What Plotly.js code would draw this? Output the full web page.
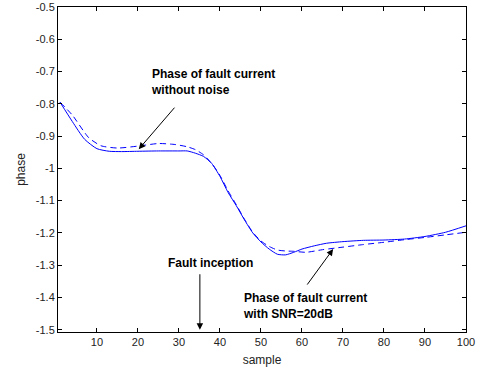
<!DOCTYPE html>
<html>
<head>
<meta charset="utf-8">
<script src="https://cdn.plot.ly/plotly-3.0.1.min.js"></script>
<style>html,body{margin:0;padding:0;background:#fff;}#chart{width:481px;height:368px;}</style>
</head>
<body>
<div id="chart"></div>
<script>
// Phase of fault current without noise (solid)
const cleanX = [1,4,7,10,13,16,20,25,30,32,34,36,38,40,42,44,46,48,50,52,54,56,58,60,63,66,70,75,80,85,90,95,100];
const cleanY = [-0.795,-0.855,-0.91,-0.939,-0.947,-0.948,-0.947,-0.946,-0.946,-0.946,-0.953,-0.963,-0.985,-1.025,-1.075,-1.116,-1.16,-1.2,-1.228,-1.25,-1.266,-1.268,-1.26,-1.25,-1.24,-1.232,-1.227,-1.223,-1.222,-1.219,-1.211,-1.198,-1.178];
// Phase of fault current with SNR=20dB (dashed)
const noisyX = [1,4,8,11,15,20,25,29,32,34,36,38,40,42,44,46,48,50,52,54,56,58,61,65,70,75,80,85,90,95,100];
const noisyY = [-0.795,-0.835,-0.905,-0.93,-0.937,-0.931,-0.923,-0.926,-0.933,-0.942,-0.958,-0.985,-1.022,-1.07,-1.113,-1.158,-1.198,-1.225,-1.242,-1.253,-1.256,-1.257,-1.26,-1.252,-1.244,-1.236,-1.229,-1.221,-1.214,-1.206,-1.198];
const xTicks = [10,20,30,40,50,60,70,80,90,100];
const yTicks = [-1.5,-1.4,-1.3,-1.2,-1.1,-1,-0.9,-0.8,-0.7,-0.6,-0.5];
const yTickText = ['-1.5','-1.4','-1.3','-1.2','-1.1','-1','-0.9','-0.8','-0.7','-0.6','-0.5'];

const font = 'Liberation Sans, Arial, Helvetica, sans-serif';
const traces = [
  {x: cleanX, y: cleanY, mode: 'lines', line: {color: '#0000ff', width: 1, shape: 'spline', smoothing: 0.6}, showlegend: false, hoverinfo: 'none'},
  {x: noisyX, y: noisyY, mode: 'lines', line: {color: '#0000ff', width: 1, dash: '6px,4px', shape: 'spline', smoothing: 0.6}, showlegend: false, hoverinfo: 'none'}
];
const axisCommon = {
  showgrid: false, zeroline: false, showline: true, linecolor: '#000', linewidth: 1,
  mirror: 'ticks', ticks: 'inside', ticklen: 4, tickcolor: '#000', tickwidth: 1,
  tickfont: {family: font, size: 11, color: '#222'}
};
const annFont = {family: font, size: 12, color: '#000', weight: 'bold'};
const layout = {
  width: 481, height: 368,
  margin: {l: 58, r: 15, t: 7, b: 36},
  paper_bgcolor: '#fff', plot_bgcolor: '#fff',
  xaxis: Object.assign({}, axisCommon, {range: [0.5, 100], tickvals: xTicks, ticktext: xTicks.map(String),
    title: {text: 'sample', font: {family: font, size: 12, color: '#222'}, standoff: 8}}),
  yaxis: Object.assign({}, axisCommon, {range: [-1.507, -0.5], tickvals: yTicks, ticktext: yTickText,
    title: {text: 'phase', font: {family: font, size: 12, color: '#222'}, standoff: 7}}),
  annotations: [
    {x: 22.65, y: -0.732, xref: 'x', yref: 'y', text: '<b>Phase of fault current<br>without noise</b>', showarrow: false, xanchor: 'left', yanchor: 'middle', align: 'left', font: annFont},
    {x: 20.2, y: -0.9405, xref: 'x', yref: 'y', text: '', showarrow: true, ax: 37, ay: -43, arrowhead: 2, arrowsize: 1.3, arrowwidth: 1, arrowcolor: '#000', standoff: 0},
    {x: 45.05, y: -1.427, xref: 'x', yref: 'y', text: '<b>Phase of fault current<br>with SNR=20dB</b>', showarrow: false, xanchor: 'left', yanchor: 'middle', align: 'left', font: annFont},
    {x: 67.6, y: -1.250, xref: 'x', yref: 'y', text: '', showarrow: true, ax: -27, ay: 37, arrowhead: 2, arrowsize: 1.3, arrowwidth: 1, arrowcolor: '#000', standoff: 0},
    {x: 37.6, y: -1.2926, xref: 'x', yref: 'y', text: '<b>Fault inception</b>', showarrow: false, xanchor: 'center', yanchor: 'middle', font: annFont},
    {x: 35.1, y: -1.5, xref: 'x', yref: 'y', text: '', showarrow: true, ax: 0, ay: -57, arrowhead: 2, arrowsize: 1.3, arrowwidth: 1, arrowcolor: '#000', standoff: 0}
  ]
};
Plotly.newPlot('chart', traces, layout, {staticPlot: true, displayModeBar: false});
</script>
</body>
</html>
